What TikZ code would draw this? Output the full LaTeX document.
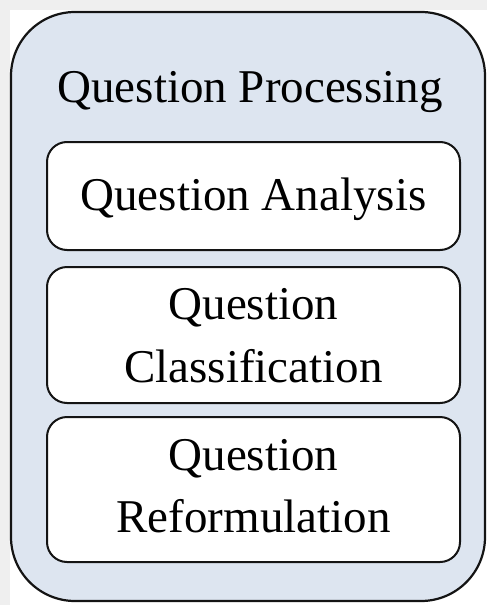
\documentclass[tikz,border=0pt]{standalone}
\usepackage{fontspec}
\setmainfont{Liberation Serif}
\definecolor{panelfill}{HTML}{DDE5F0}
\definecolor{edgegray}{HTML}{EFEFEF}
\begin{document}
\begin{tikzpicture}[x=1pt,y=-1pt,
  outerbox/.style={draw=black!92,line width=2.2pt,fill=panelfill,rounded corners=64pt,
    minimum width=474pt,minimum height=589pt,inner sep=0pt},
  stagebox/.style={draw=black!92,line width=2pt,fill=white,rounded corners=20pt,
    minimum width=413pt,inner sep=0pt},
  lbl/.style={anchor=base,inner sep=0pt,font=\fontsize{47}{56}\selectfont}]
\fill[edgegray] (0,0) rectangle (487,605);
\fill[white] (10,10) rectangle (487,605);
\useasboundingbox (0,0) rectangle (487,605);
\node[outerbox] (proc) at (248,306.5) {};
\node[lbl] (title) at (250,102) {Question Processing};
\node[stagebox,minimum height=108pt] (ana) at (253.5,196) {};
\node[stagebox,minimum height=136pt] (cls) at (253.5,335) {};
\node[stagebox,minimum height=145pt] (ref) at (253.5,489.5) {};
\node[lbl] (anat) at (253.5,210) {Question Analysis};
\node[lbl] (clsa) at (253.5,319) {Question};
\node[lbl] (clsb) at (253.5,382) {Classification};
\node[lbl] (refa) at (253.5,470) {Question};
\node[lbl] (refb) at (253.5,532) {Reformulation};
\end{tikzpicture}
\end{document}
